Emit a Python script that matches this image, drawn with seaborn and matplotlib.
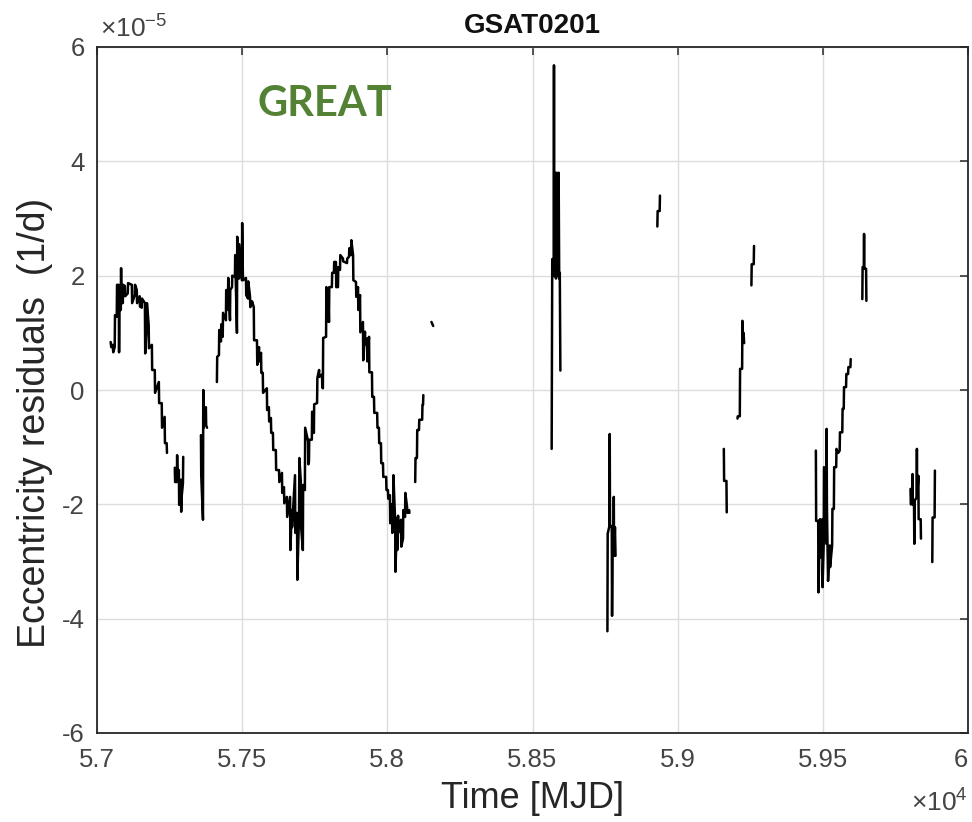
import matplotlib
matplotlib.use('Agg')
import matplotlib.pyplot as plt
import seaborn as sns
import pandas as pd

# ---- data: MJD and eccentricity residuals (units of 1e-5 1/d), one pair per track piece ----
mjd_a = [57047, 57049, 57054, 57056, 57061, 57062, 57068, 57069, 57075, 57076, 57077, 57082,
         57083, 57084, 57089, 57090, 57096, 57097, 57106, 57107, 57120, 57121, 57130, 57131,
         57137, 57138, 57147, 57148, 57154, 57155, 57165, 57166, 57171, 57172, 57178, 57179,
         57189, 57190, 57199, 57200, 57213, 57214, 57223, 57224, 57233, 57234, 57240, 57241]
res_a = [0.84, 0.75, 0.79, 0.66, 0.75, 1.31, 1.28, 1.84, 1.84, 0.66, 1.40, 1.40,
         2.13, 1.52, 1.52, 1.84, 1.82, 1.64, 1.69, 1.87, 1.84, 1.52, 1.66, 1.84,
         1.75, 1.52, 1.64, 1.46, 1.44, 1.60, 1.52, 0.64, 1.11, 1.52, 1.14, 0.73,
         0.79, 0.35, 0.35, -0.05, 0.14, -0.23, -0.23, -0.66, -0.47, -0.93, -0.93, -1.10]

mjd_b = [57268, 57269, 57275, 57276, 57277, 57282, 57283, 57289, 57290, 57291, 57296, 57297]
res_b = [-1.36, -1.61, -1.61, -1.14, -1.40, -1.40, -2.01, -1.57, -2.13, -1.90, -1.63, -1.17]

mjd_c = [57358, 57359, 57365, 57366, 57367, 57375, 57376, 57379]
res_c = [-0.79, -1.49, -2.27, 0.0, -0.66, -0.30, -0.62, -0.66]

mjd_d = [57413, 57414, 57420, 57421, 57427, 57428, 57433, 57434, 57444, 57445, 57451, 57452,
         57458, 57459, 57465, 57466, 57475, 57476, 57482, 57483, 57489, 57490, 57499, 57500,
         57502, 57503, 57513, 57514, 57520, 57521, 57527, 57528, 57533, 57534, 57540, 57541,
         57551, 57552, 57558, 57559, 57565, 57566, 57571, 57572, 57585, 57586, 57592, 57593,
         57599, 57600, 57606, 57607, 57616, 57617, 57627, 57628, 57637, 57638, 57644, 57645,
         57654, 57655, 57665, 57666, 57671, 57672, 57682, 57683, 57689, 57690, 57696, 57697,
         57702, 57703, 57709, 57710, 57716, 57717, 57727, 57728, 57730, 57731, 57740, 57741,
         57747, 57748, 57758, 57759, 57765, 57766, 57775, 57776, 57778, 57779, 57789, 57790,
         57796, 57797, 57799, 57800, 57809, 57810, 57816, 57817, 57823, 57824, 57830, 57831,
         57837, 57838, 57847, 57848, 57861, 57862, 57868, 57869, 57875, 57876, 57882, 57883,
         57892, 57893, 57899, 57900, 57906, 57907, 57916, 57917, 57923, 57924, 57930, 57931,
         57937, 57938, 57947, 57948, 57954, 57955, 57965, 57966, 57971, 57972, 57978, 57979,
         57985, 57986, 57996, 57997, 58002, 58003, 58009, 58010, 58016, 58017, 58020, 58021,
         58027, 58028, 58033, 58034, 58037, 58038, 58047, 58048, 58054, 58055, 58061, 58062,
         58068, 58069, 58075, 58076]
res_d = [0.14, 0.58, 0.61, 1.05, 0.85, 1.15, 0.93, 1.35, 1.22, 1.75, 1.40, 1.96,
         1.22, 1.75, 1.80, 2.00, 1.98, 2.36, 1.00, 2.68, 1.95, 2.55, 1.92, 2.92,
         2.15, 1.92, 1.96, 1.66, 1.60, 1.90, 1.64, 1.45, 1.50, 1.55, 1.45, 0.87,
         0.87, 0.44, 0.75, 0.50, 0.65, 0.30, 0.30, -0.05, 0.03, -0.35, -0.30, -0.55,
         -0.49, -0.75, -0.75, -1.05, -1.05, -1.40, -1.40, -1.61, -1.45, -1.80, -1.70, -1.98,
         -1.87, -2.22, -1.87, -2.80, -2.10, -2.40, -1.49, -2.50, -2.15, -3.32, -2.15, -1.19,
         -1.60, -2.40, -2.80, -1.66, -1.75, -0.66, -0.90, -1.30, -1.25, -0.87, -0.87, -0.38,
         -0.75, -0.25, -0.23, 0.21, 0.35, 0.23, 0.27, 0.05, 0.03, 0.91, 0.93, 1.80,
         1.20, 1.65, 1.19, 1.80, 1.80, 2.05, 2.05, 2.24, 2.24, 1.80, 1.80, 2.15,
         2.10, 2.36, 2.30, 2.25, 2.22, 2.30, 2.33, 2.48, 2.36, 2.62, 2.36, 1.92,
         1.89, 1.63, 1.80, 1.40, 1.66, 1.01, 1.19, 0.52, 1.02, 0.80, 0.90, 0.50,
         0.93, 0.31, 0.31, -0.12, -0.12, -0.40, -0.40, -0.66, -0.66, -0.93, -0.93, -1.28,
         -1.28, -1.52, -1.52, -1.75, -1.75, -1.90, -1.84, -2.33, -2.00, -2.50, -2.27, -1.49,
         -2.31, -3.18, -2.25, -2.80, -2.20, -2.50, -2.27, -2.74, -2.60, -2.10, -2.22, -1.80,
         -2.05, -2.15, -2.10, -2.15]

mjd_e = [58096, 58097, 58102, 58103, 58109, 58110, 58120, 58121, 58123, 58124]
res_e = [-1.61, -1.19, -1.19, -0.70, -0.70, -0.52, -0.52, -0.26, -0.26, -0.09]

mjd_f = [58152, 58158]
res_f = [1.19, 1.12]

mjd_g = [58566, 58568, 58573, 58574, 58575, 58578, 58581, 58584, 58587, 58590, 58592, 58594, 58596]
res_g = [-1.03, 2.29, 2.29, 5.68, 1.99, 3.80, 1.95, 3.80, 2.00, 3.80, 1.95, 2.05, 0.34]

mjd_h = [58758, 58759, 58765, 58766, 58767, 58773, 58774, 58776, 58779, 58780, 58781, 58784, 58786]
res_h = [-4.22, -2.51, -2.38, -0.77, -2.38, -2.38, -3.95, -2.60, -2.60, -1.87, -2.90, -2.40, -2.90]

mjd_i = [58930, 58931, 58938, 58939]
res_i = [2.86, 3.13, 3.13, 3.40]

mjd_j = [59159, 59160, 59168, 59169]
res_j = [-1.03, -1.59, -1.59, -2.14]

mjd_k = [59206, 59207, 59214, 59215, 59222, 59223, 59225, 59227, 59229]
res_k = [-0.50, -0.46, -0.46, 0.37, 0.37, 1.21, 0.85, 1.00, 0.82]

mjd_l = [59254, 59255, 59262, 59263]
res_l = [1.83, 2.20, 2.20, 2.52]

mjd_m = [59476, 59477, 59484, 59485, 59490, 59491, 59498, 59499, 59503, 59504, 59512, 59513,
         59514, 59518, 59524, 59525, 59532, 59533, 59538, 59539, 59546, 59547, 59553, 59558,
         59559, 59567, 59568, 59572, 59573, 59580, 59581, 59587, 59588, 59595, 59596]
res_m = [-1.06, -2.29, -2.29, -3.54, -2.26, -2.93, -2.26, -3.45, -2.69, -1.35, -2.69, -0.68,
         -2.00, -3.34, -2.72, -3.10, -2.72, -2.08, -2.08, -1.35, -1.35, -1.03, -1.10, -1.06,
         -0.74, -0.74, -0.33, -0.33, 0.05, 0.05, 0.28, 0.28, 0.40, 0.40, 0.54]

mjd_n = [59636, 59637, 59641, 59642, 59643, 59649, 59650]
res_n = [1.59, 2.15, 2.15, 2.73, 2.12, 2.12, 1.56]

mjd_o = [59802, 59803, 59808, 59809, 59810, 59814, 59815, 59816, 59823, 59824, 59825, 59829,
         59830, 59837, 59838]
res_o = [-1.73, -2.00, -2.00, -1.47, -2.00, -1.94, -2.69, -1.94, -1.88, -1.03, -1.88, -1.50,
         -2.26, -2.26, -2.60]

mjd_p = [59877, 59878, 59885, 59886]
res_p = [-3.01, -2.23, -2.23, -1.41]

x_ticks = [57000, 57500, 58000, 58500, 59000, 59500, 60000]
x_tick_labels = ['5.7', '5.75', '5.8', '5.85', '5.9', '5.95', '6']
y_ticks = [-6, -4, -2, 0, 2, 4, 6]

# ---- build long table ----
pieces = [(mjd_a, res_a), (mjd_b, res_b), (mjd_c, res_c), (mjd_d, res_d), (mjd_e, res_e),
          (mjd_f, res_f), (mjd_g, res_g), (mjd_h, res_h), (mjd_i, res_i), (mjd_j, res_j),
          (mjd_k, res_k), (mjd_l, res_l), (mjd_m, res_m), (mjd_n, res_n), (mjd_o, res_o),
          (mjd_p, res_p)]
rows = []
for seg, (mx, ry) in enumerate(pieces):
    for x, y in zip(mx, ry):
        rows.append({'mjd': x, 'res': y, 'seg': seg})
df = pd.DataFrame(rows)

# ---- plot ----
sns.set_style('white')
plt.rcParams['font.family'] = ['Liberation Sans', 'DejaVu Sans']
plt.rcParams['mathtext.fontset'] = 'custom'
plt.rcParams['mathtext.rm'] = 'Liberation Sans'

fig, ax = plt.subplots(figsize=(9.72, 8.22), dpi=100)
fig.subplots_adjust(left=97 / 972, right=968 / 972, bottom=1 - 733 / 822, top=1 - 47 / 822)

sns.lineplot(data=df, x='mjd', y='res', units='seg', estimator=None, sort=False,
             color='black', linewidth=1.8, ax=ax)

ax.set_xlim(57000, 60000)
ax.set_ylim(-6, 6)
ax.set_xticks(x_ticks)
ax.set_xticklabels(x_tick_labels)
ax.set_yticks(y_ticks)
ax.set_yticklabels([str(v) for v in y_ticks])
# last x label sits just inside the figure edge, as in the original
ax.get_xticklabels()[-1].set_horizontalalignment('right')

tick_col = '#444444'
ax.grid(True, color='#dcdcdc', linewidth=1.0)
ax.set_axisbelow(True)
ax.tick_params(direction='in', length=6, width=1.1, color='#262626', top=True, right=True,
               labelsize=18.5, labelcolor=tick_col)
ax.tick_params(axis='x', pad=11)
ax.tick_params(axis='y', pad=9)
for sp in ax.spines.values():
    sp.set_color('#262626')
    sp.set_linewidth(1.3)

ax.set_title('GSAT0201', fontsize=20, fontweight='bold', color='#111111', pad=10)
ax.set_xlabel('Time [MJD]', fontsize=26, color='#262626')
ax.set_ylabel('Eccentricity residuals  (1/d)', fontsize=27, color='#262626')
ax.xaxis.set_label_coords(0.5, -0.07)
ax.yaxis.set_label_coords(-0.05, 0.452)

ax.text(0.004, 1.006, r'$\times\mathregular{10^{-5}}$', transform=ax.transAxes,
        fontsize=19, color=tick_col, ha='left', va='bottom')
ax.text(1.0, -0.114, r'$\times\mathregular{10^{4}}$', transform=ax.transAxes,
        fontsize=19, color=tick_col, ha='right', va='baseline')

ax.text(0.262, 0.917, 'GREAT', transform=ax.transAxes, fontsize=30, fontweight='bold',
        color='#548235', ha='center', va='center', family=['Lato', 'DejaVu Sans'])

fig.savefig('out.png', dpi=100)
